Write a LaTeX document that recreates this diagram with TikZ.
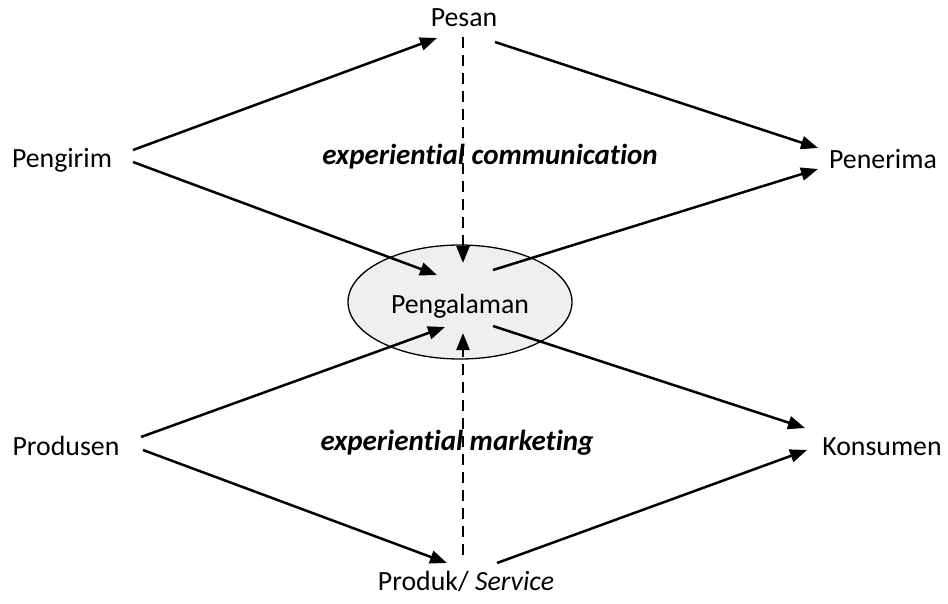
\documentclass[tikz,border=0pt]{standalone}
\usepackage{fontspec}
\setmainfont{Carlito}[Ligatures=NoCommon]
\usetikzlibrary{arrows.meta,shapes.geometric}
\definecolor{ellfill}{HTML}{EFEFEF}
\tikzset{
  lbl/.style={anchor=base, inner sep=0pt, font=\fontsize{27.8}{33}\selectfont},
  ital/.style={lbl, font=\fontsize{29}{34}\selectfont\bfseries\itshape},
  conn/.style={line width=2.5pt, -{Triangle[length=17pt,width=13pt]}},
  dconn/.style={conn, dash pattern=on 11pt off 7pt},
  ell/.style={draw, line width=1.3pt, fill=ellfill, ellipse, minimum width=224pt, minimum height=114pt, inner sep=0pt}
}
\begin{document}
\begin{tikzpicture}[x=1pt,y=-1pt]
\useasboundingbox (0,0) rectangle (948,604);
% ellipse
\node[ell] (ell) at (460,302) {};
% labels
\node[lbl] (pesan) at (464,27) {Pesan};
\node[lbl] (pengirim) at (62,168) {Pengirim};
\node[lbl] (penerima) at (883,169) {Penerima};
\node[lbl] (pengalaman) at (460,313) {Pengalaman};
\node[lbl] (produsen) at (66,455) {Produsen};
\node[lbl] (konsumen) at (882,455) {Konsumen};
\node[lbl] (produk) at (466,590) {Produk/ \textit{Service}};
\node[ital] (expcomm) at (490,165) {experiential communication};
\node[ital] (expmark) at (457,450) {experiential marketing};
% endpoints
\coordinate (a1s) at (133,150); \coordinate (a1e) at (437,38);
\coordinate (a2s) at (495,42);  \coordinate (a2e) at (818,148);
\coordinate (a3s) at (133,162); \coordinate (a3e) at (437,275);
\coordinate (a4s) at (493,270); \coordinate (a4e) at (818,169);
\coordinate (d1s) at (463,37);  \coordinate (d1e) at (463,263);
\coordinate (a6s) at (141,437); \coordinate (a6e) at (445,327);
\coordinate (a7s) at (493,326); \coordinate (a7e) at (805,428);
\coordinate (a8s) at (143,450); \coordinate (a8e) at (447,563);
\coordinate (a9s) at (497,563); \coordinate (a9e) at (807,450);
\coordinate (d2s) at (463,555); \coordinate (d2e) at (463,333);
% connectors
\draw[conn] (a1s) -- (a1e);
\draw[conn] (a2s) -- (a2e);
\draw[conn] (a3s) -- (a3e);
\draw[conn] (a4s) -- (a4e);
\draw[dconn] (d1s) -- (d1e);
\draw[conn] (a6s) -- (a6e);
\draw[conn] (a7s) -- (a7e);
\draw[conn] (a8s) -- (a8e);
\draw[conn] (a9s) -- (a9e);
\draw[dconn] (d2s) -- (d2e);
\end{tikzpicture}
\end{document}
